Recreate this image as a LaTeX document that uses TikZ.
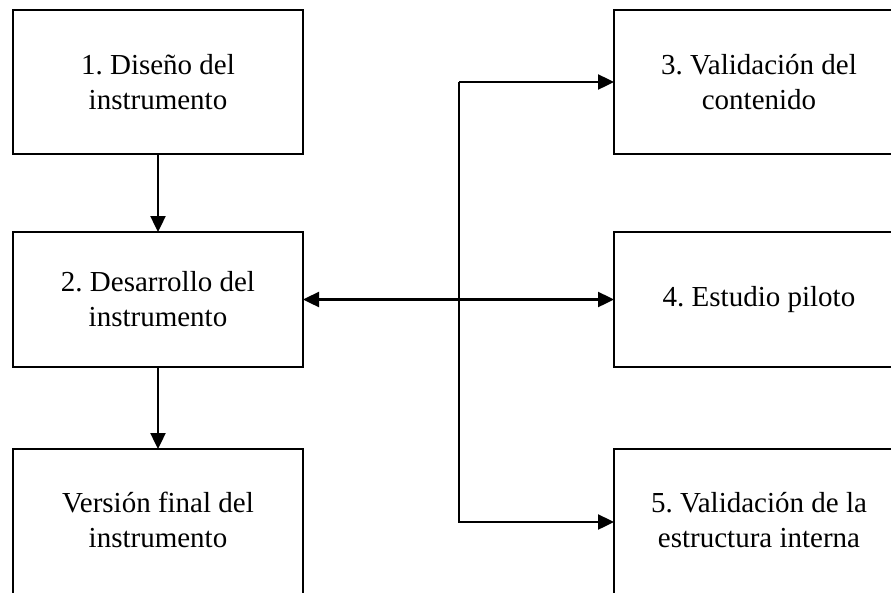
\documentclass[tikz,border=0pt]{standalone}
\usepackage{fontspec}
\setmainfont{Liberation Serif}
\frenchspacing
\usetikzlibrary{arrows.meta, positioning}

\begin{document}
\begin{tikzpicture}[
    x=1pt, y=-1pt,
    box/.style={rectangle, draw=black, line width=2.4pt, fill=white, minimum width=290pt, align=center, font=\fontsize{29}{35}\selectfont, outer sep=0pt, inner sep=0pt},
    tall/.style={box, minimum height=144pt},
    low/.style={box, minimum height=150pt, text depth=9pt},
    short/.style={box, minimum height=135pt},
    edge/.style={-{Triangle[length=16pt, width=15pt]}, line width=2.4pt}
]
\clip (0,0) rectangle (891,592);

% Columna izquierda
\node[tall] (d1) at (158,82) {1. Diseño del\\instrumento};
\node[short, below=78pt of d1] (d2) {2. Desarrollo del\\instrumento};
\node[low, below=82pt of d2] (vf) {Versión final del\\instrumento};

% Columna derecha
\node[tall, right=311pt of d1] (d3) {3. Validación del\\contenido};
\node[short, right=311pt of d2] (d4) {4. Estudio piloto};
\node[low, right=311pt of vf] (d5) {5. Validación de la\\estructura interna};

\coordinate[right=156pt of d2.east] (hub);

% Conectores
\draw[edge] (d1) -- (d2);
\draw[edge] (d2) -- (vf);
\draw[edge, {Triangle[length=16pt, width=15pt]}-{Triangle[length=16pt, width=15pt]}] (d2) -- (d4);
\draw[edge] (hub |- d3.west) -- (d3.west);
\draw[edge] (hub |- d3.west) |- ([yshift=2pt]d5.west);

\end{tikzpicture}
\end{document}
